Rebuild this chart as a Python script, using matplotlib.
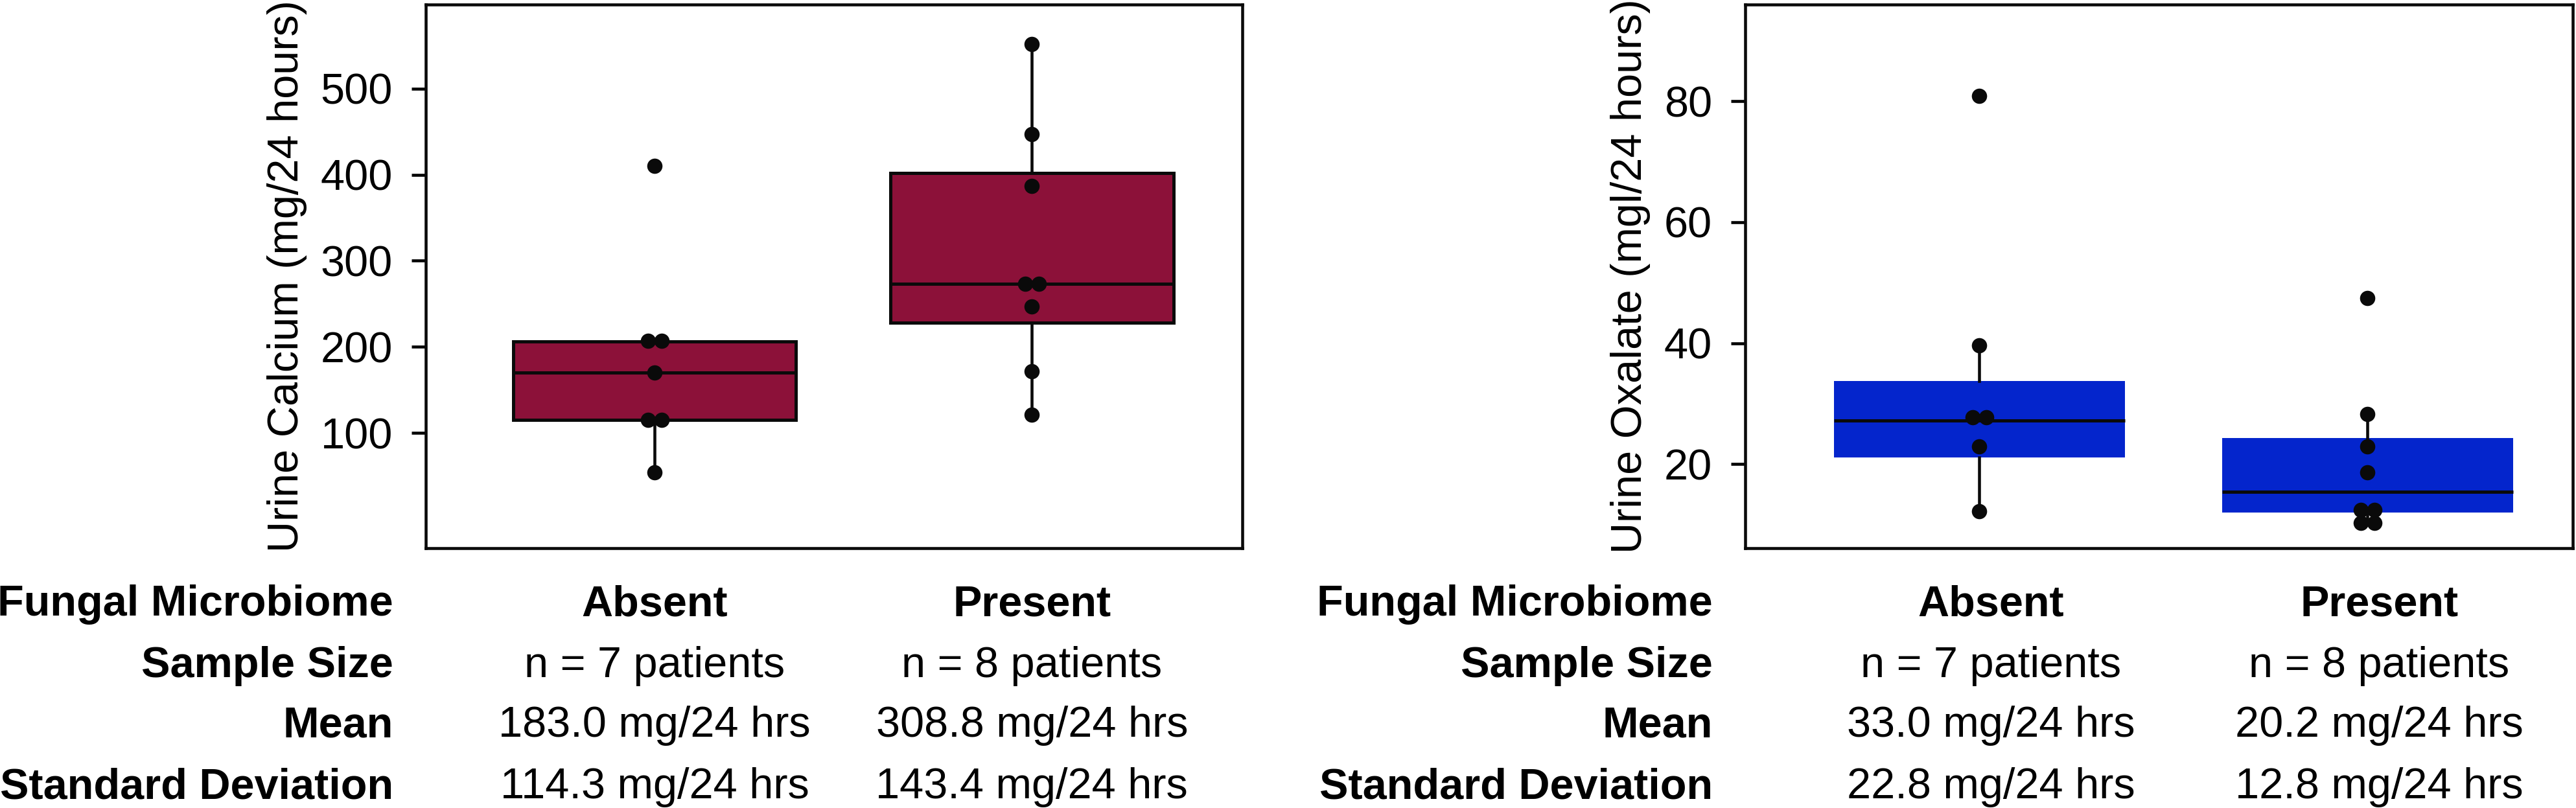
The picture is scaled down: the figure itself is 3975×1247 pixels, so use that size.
import numpy as np
import matplotlib
matplotlib.use('Agg')
import matplotlib.pyplot as plt
import matplotlib.transforms as mtransforms

plt.rcParams['font.family'] = ['Liberation Sans', 'DejaVu Sans']

###### Data #######
groups = ['Absent', 'Present']

# urine calcium, mg/24 h
calcium_absent = [410, 207, 207, 170, 115, 115, 54]
calcium_present = [552, 447, 387, 273.5, 273.5, 247, 172, 121]
calcium_q1 = [115, 228.5]
calcium_med = [170, 273.5]
calcium_q3 = [206.5, 402]
calcium_whislo = [54, 121]
calcium_whishi = [206.5, 552]
calcium_n = [7, 8]
calcium_mean = [183.0, 308.8]
calcium_sd = [114.3, 143.4]

# urine oxalate, mg/24 h
oxalate_absent = [80.9, 39.6, 27.7, 27.7, 22.9, 12.2]
oxalate_present = [47.5, 28.3, 22.9, 18.6, 12.4, 12.4, 10.25, 10.25]
oxalate_q1 = [21.1, 12.0]
oxalate_med = [27.25, 15.45]
oxalate_q3 = [33.75, 24.3]
oxalate_whislo = [12.2, 10.25]
oxalate_whishi = [39.6, 28.3]
oxalate_n = [7, 8]
oxalate_mean = [33.0, 20.2]
oxalate_sd = [22.8, 12.8]

row_labels = ['Fungal Microbiome', 'Sample Size', 'Mean', 'Standard Deviation']
######################


def side_by_side(values, d=0.018):
    # equal values sit next to each other, centred on the group
    values = np.asarray(values, dtype=float)
    offs = np.zeros(len(values))
    for v in np.unique(values):
        idx = np.where(values == v)[0]
        k = len(idx)
        offs[idx] = (np.arange(k) - (k - 1) / 2) * d * 2
    return offs


def panel(ax, points, q1, med, q3, lo, hi, color, edge, ylabel, yticks, ylim, xlim):
    stats = []
    for i in range(2):
        stats.append(dict(med=med[i], q1=q1[i], q3=q3[i], whislo=lo[i], whishi=hi[i], fliers=[]))
    pos = [1, 2]
    ax.bxp(stats, positions=pos, widths=0.75, patch_artist=True, showfliers=False, showcaps=False,
           boxprops=dict(facecolor=color, edgecolor=edge, linewidth=1.2 if edge != 'none' else 0),
           medianprops=dict(color='#0a0a0a', linewidth=1.2),
           whiskerprops=dict(color='#0a0a0a', linewidth=1.1))
    for p, vals in zip(pos, points):
        ax.scatter(p + side_by_side(vals), vals, s=32, color='#0a0a0a', zorder=4, linewidths=0)
    ax.set_xlim(*xlim)
    ax.set_ylim(*ylim)
    ax.set_yticks(yticks)
    ax.set_xticks([])
    ax.tick_params(axis='y', direction='out', length=5.3, width=1.1, labelsize=16, pad=7)
    for s in ax.spines.values():
        s.set_linewidth(1.1)
        s.set_color('#0a0a0a')
    ax.set_ylabel(ylabel, fontsize=16, labelpad=5)


def table(fig, ax, n, mean, sd, xoff):
    rows_y = [0.238, 0.162, 0.088, 0.012]
    left = ax.get_position().x0 - 50 / 3975
    for lab, y in zip(row_labels, rows_y):
        fig.text(left, y, lab, ha='right', va='baseline', fontsize=16, fontweight='bold')
    trans = mtransforms.blended_transform_factory(ax.transData, fig.transFigure)
    for i, g in enumerate(groups):
        x = i + 1 + xoff
        ax.text(x, rows_y[0], g, transform=trans, ha='center', va='baseline', fontsize=16,
                fontweight='bold', clip_on=False)
        ax.text(x, rows_y[1], 'n = %d patients' % n[i], transform=trans, ha='center',
                va='baseline', fontsize=16, clip_on=False)
        ax.text(x, rows_y[2], '%.1f mg/24 hrs' % mean[i], transform=trans, ha='center',
                va='baseline', fontsize=16, clip_on=False)
        ax.text(x, rows_y[3], '%.1f mg/24 hrs' % sd[i], transform=trans, ha='center',
                va='baseline', fontsize=16, clip_on=False)


fig = plt.figure(figsize=(13.25, 4.1567), dpi=300)
ax1 = fig.add_axes([0.1653, 0.3216, 0.3170, 0.6728])
ax2 = fig.add_axes([0.6775, 0.3216, 0.3212, 0.6728])

panel(ax1, [calcium_absent, calcium_present], calcium_q1, calcium_med, calcium_q3,
      calcium_whislo, calcium_whishi, '#8c1139', '#0a0a0a', 'Urine Calcium (mg/24 hours)',
      [100, 200, 300, 400, 500], (-33.7, 597.6), (0.3935, 2.558))
panel(ax2, [oxalate_absent, oxalate_present], oxalate_q1, oxalate_med, oxalate_q3,
      oxalate_whislo, oxalate_whishi, '#0425cc', 'none', 'Urine Oxalate (mgl/24 hours)',
      [20, 40, 60, 80], (6.1, 96.0), (0.397, 2.528))

table(fig, ax1, calcium_n, calcium_mean, calcium_sd, 0.0)
table(fig, ax2, oxalate_n, oxalate_mean, oxalate_sd, 0.03)

fig.savefig('out.png', dpi=300)
